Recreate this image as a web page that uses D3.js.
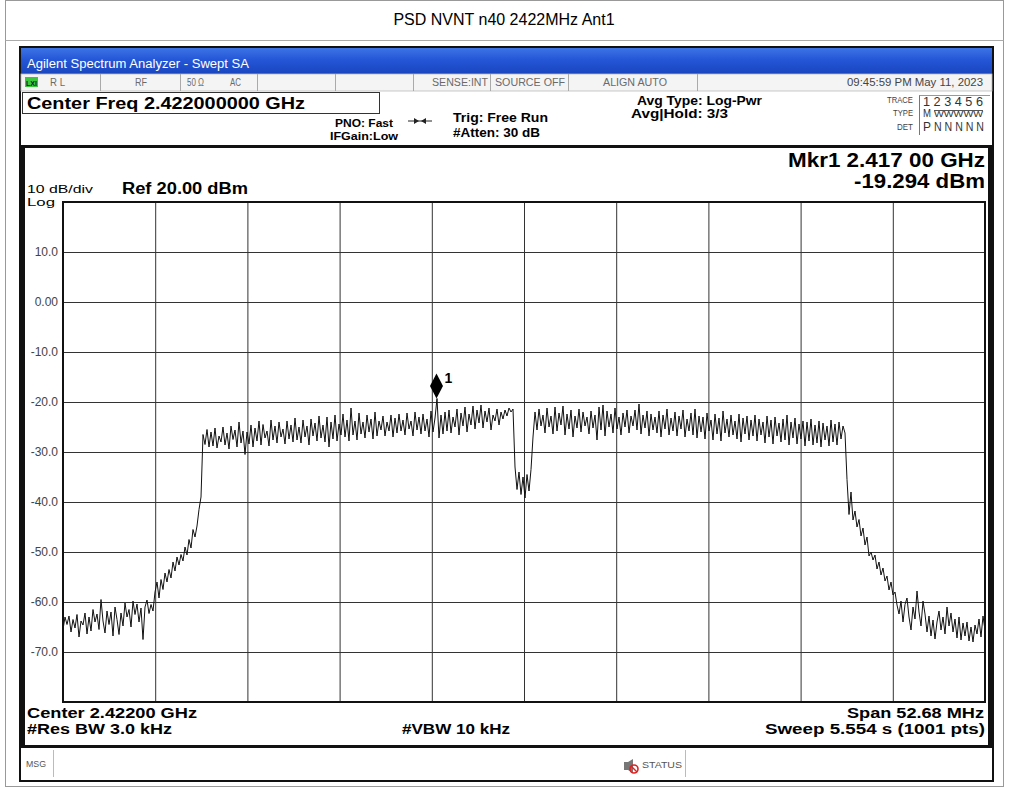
<!DOCTYPE html>
<html>
<head>
<meta charset="utf-8">
<script src="https://cdn.jsdelivr.net/npm/d3@7"></script>
<style>
  body { margin: 0; background: #fff; }
  svg { display: block; font-family: "Liberation Sans", Arial, sans-serif; }
</style>
</head>
<body>
<div id="chart"></div>
<script>
// ---- values ----
var centerGHz = 2.422;
var spanMHz = 52.68;
var refLevel = 20;
var dbPerDiv = 10;
var yTickValues = [10, 0, -10, -20, -30, -40, -50, -60, -70];
var yTickLabels = ["10.0", "0.00", "-10.0", "-20.0", "-30.0", "-40.0", "-50.0", "-60.0", "-70.0"];
var markerGHz = 2.417;
var markerDbm = -19.294;

// trace (dBm), evenly spaced over the span, left to right
var floorLeft = [-65.5, -63.0, -64.5, -62.8, -66.0, -63.5, -65.2, -62.5, -67.0, -63.8,
  -64.6, -62.2, -66.4, -63.0, -65.8, -61.5, -64.0, -62.4, -65.5, -59.5,
  -63.8, -66.2, -61.8, -64.5, -62.0, -66.8, -61.0, -63.5, -66.5, -62.2,
  -64.8, -60.2, -63.0, -61.5, -65.0, -59.8, -62.5, -60.4, -64.0, -61.2,
  -67.5, -61.0, -59.6, -62.3];
var riseLeft = [-60.5, -61.8, -58.0, -56.0, -59.2, -55.5, -57.5, -54.2, -56.0, -53.5,
  -55.2, -52.0, -53.8, -51.0, -52.6, -50.5, -51.8, -49.0, -50.6, -47.5,
  -49.2, -45.5, -47.0, -44.8, -41.5, -39.0];
var bandLeft = [-26.5, -28.5, -25.5, -29.0, -26.0, -28.8, -25.2, -29.2, -26.8, -28.0,
  -25.0, -28.6, -26.2, -29.4, -24.8, -27.5, -25.6, -29.0, -24.0, -28.2,
  -25.8, -30.5, -26.0, -28.4, -24.6, -29.0, -25.2, -27.8, -23.8, -28.6,
  -24.5, -27.2, -25.8, -28.8, -23.6, -27.6, -24.8, -28.2, -24.0, -27.0,
  -25.4, -28.4, -23.8, -27.4, -24.6, -28.0, -23.2, -27.6, -25.0, -28.2,
  -23.6, -27.0, -24.8, -28.6, -23.4, -26.8, -24.2, -27.8, -22.8, -27.2,
  -24.6, -28.0, -23.0, -29.0, -24.0, -27.4, -22.6, -27.8, -24.4, -26.6,
  -22.4, -27.0, -23.6, -27.8, -21.2, -26.6, -23.8, -27.6, -22.2, -26.4,
  -24.0, -27.2, -22.6, -26.0, -23.4, -27.4, -22.0, -26.8, -23.8, -25.6,
  -22.8, -26.8, -24.0, -25.8, -22.6, -27.0, -23.2, -26.2, -22.4, -25.8,
  -23.6, -26.6, -22.2, -25.4, -23.8, -26.8, -22.0, -25.6, -23.0, -26.4,
  -22.4, -25.8, -23.4, -27.0, -21.8, -26.0, -23.2, -19.3, -27.2, -22.6,
  -26.4, -22.0, -25.8, -21.6, -26.2, -23.0, -25.0, -21.4, -26.6, -22.2,
  -24.8, -21.0, -26.0, -22.4, -24.6, -20.8, -25.4, -21.6, -24.2, -20.6,
  -25.2, -21.8, -24.0, -21.2, -25.6, -22.6, -23.8, -21.4, -24.6, -22.0,
  -23.4, -21.6, -22.8, -21.2, -22.0, -21.4];
var notch = [-33.0, -37.5, -34.0, -38.5, -35.0, -39.2, -34.5, -37.8, -33.5, -27.0];
var bandRight = [-22.0, -25.6, -21.4, -24.8, -22.6, -26.2, -21.2, -25.0, -22.8, -26.4,
  -21.0, -25.8, -22.2, -24.6, -20.8, -26.6, -22.4, -25.4, -21.6, -27.0,
  -22.8, -25.2, -21.4, -26.0, -22.0, -24.8, -23.0, -26.4, -21.8, -25.2,
  -22.6, -27.6, -21.0, -25.6, -20.6, -26.8, -21.8, -25.0, -22.4, -26.2,
  -21.2, -25.4, -23.0, -26.6, -22.2, -25.0, -21.6, -26.2, -22.8, -24.8,
  -21.6, -25.6, -20.4, -26.4, -22.6, -25.2, -21.8, -26.8, -22.4, -25.6,
  -23.0, -26.2, -21.8, -27.0, -22.6, -25.4, -21.4, -26.6, -23.2, -25.8,
  -22.0, -26.8, -22.8, -25.4, -21.6, -27.0, -23.4, -25.8, -22.2, -26.6,
  -21.4, -27.2, -22.8, -26.0, -23.0, -27.4, -22.2, -25.8, -23.6, -27.6,
  -22.4, -26.4, -23.2, -27.8, -21.8, -26.2, -23.4, -27.0, -22.6, -26.6,
  -23.8, -27.4, -22.4, -28.0, -23.2, -26.4, -22.8, -27.6, -23.6, -26.8,
  -22.6, -27.8, -23.4, -26.6, -24.0, -28.2, -22.8, -27.0, -23.6, -28.4,
  -23.0, -26.8, -24.2, -28.0, -23.4, -27.6, -22.6, -28.6, -24.0, -27.2,
  -23.2, -28.4, -24.4, -27.4, -23.8, -28.8, -24.0, -27.8, -23.4, -28.6,
  -24.6, -28.2, -23.8, -29.0, -24.2, -27.6, -24.8, -28.8, -23.6, -28.0,
  -24.4, -28.6, -24.0, -27.4, -24.8, -26.2];
var fallRight = [-35.5, -42.5, -38.0, -43.6, -41.8, -45.0, -43.5, -46.8, -45.2, -48.6,
  -47.0, -50.8, -50.0, -51.6, -50.6, -53.4, -52.0, -54.6, -53.2, -55.8,
  -54.8, -57.6, -56.0, -58.6, -58.0];
var floorRight = [-60.6, -62.4, -59.8, -64.0, -60.5, -59.2, -63.0, -65.6, -61.0, -63.4,
  -57.8, -62.0, -64.8, -59.8, -62.4, -66.0, -62.8, -66.8, -63.6, -67.4,
  -64.0, -61.8, -65.6, -63.0, -66.4, -61.0, -64.8, -62.2, -66.0, -63.4,
  -67.2, -63.0, -67.6, -64.2, -66.8, -64.0, -67.8, -65.0, -68.0, -64.6,
  -66.4, -63.4, -67.0, -62.8, -65.6];

// ---- layout ----
var width = 1009, height = 787;
var plot = { left: 63, right: 985, top: 202, bottom: 702 };
var scr = { left: 20, right: 993, top: 47, bottom: 781 };

var svg = d3.select("#chart").append("svg")
  .attr("width", width)
  .attr("height", height);

function label(s, x, y, o) {
  o = o || {};
  var t = svg.append("text")
    .attr("x", o.len && o.anchor === "end" ? x - o.len : x)
    .attr("y", y)
    .attr("font-size", o.size || 12)
    .attr("font-weight", o.bold ? "bold" : null)
    .attr("fill", o.fill || "#000")
    .attr("text-anchor", o.len ? "start" : (o.anchor || "start"))
    .text(s);
  if (o.len) t.attr("textLength", o.len).attr("lengthAdjust", "spacingAndGlyphs");
  return t;
}

// page frame + title
svg.append("rect").attr("x", 5.5).attr("y", 0.5).attr("width", 998).attr("height", 786)
   .attr("fill", "none").attr("stroke", "#999");
svg.append("line").attr("x1", 5.5).attr("x2", 1003.5).attr("y1", 40.5).attr("y2", 40.5)
   .attr("stroke", "#aaa");
label("PSD NVNT n40 2422MHz Ant1", 504, 25, { size: 16, anchor: "middle" });

// analyzer window
svg.append("rect").attr("x", scr.left).attr("y", scr.top)
   .attr("width", scr.right - scr.left).attr("height", scr.bottom - scr.top)
   .attr("fill", "#fff").attr("stroke", "#111").attr("stroke-width", 2);

var defs = svg.append("defs");
var grad = defs.append("linearGradient").attr("id", "bar").attr("x1", 0).attr("x2", 0).attr("y1", 0).attr("y2", 1);
grad.append("stop").attr("offset", "0%").attr("stop-color", "#3d74e6");
grad.append("stop").attr("offset", "45%").attr("stop-color", "#2456d6");
grad.append("stop").attr("offset", "100%").attr("stop-color", "#1a45bf");
svg.append("rect").attr("x", scr.left + 1).attr("y", scr.top + 1)
   .attr("width", scr.right - scr.left - 2).attr("height", 26)
   .attr("fill", "url(#bar)");
label("Agilent Spectrum Analyzer - Swept SA", 27, 68, { size: 12, fill: "#fff", len: 222 });

// status strip
svg.append("rect").attr("x", scr.left + 1).attr("y", 74).attr("width", scr.right - scr.left - 2).attr("height", 17)
   .attr("fill", "#f4f4f4").attr("stroke", "#bbb").attr("stroke-width", 0.8);
[100, 180, 257, 335, 413, 490, 568, 697].forEach(function(d) {
  svg.append("line").attr("x1", d + 0.5).attr("x2", d + 0.5).attr("y1", 74).attr("y2", 91)
     .attr("stroke", "#aaa");
});
svg.append("rect").attr("x", 25).attr("y", 77).attr("width", 13).attr("height", 10).attr("fill", "#3cc83c");
label("LXI", 26, 85.5, { size: 8, bold: true, fill: "#123", len: 11 });
var grey = "#6a6a6a";
label("R L", 50, 86, { size: 10, fill: grey, len: 15 });
label("RF", 135, 86, { size: 10, fill: grey, len: 12 });
label("50 \u03a9", 187, 86, { size: 10, fill: grey, len: 17 });
label("AC", 230, 86, { size: 10, fill: grey, len: 11 });
label("SENSE:INT", 432, 86, { size: 10, fill: grey, len: 56 });
label("SOURCE OFF", 495, 86, { size: 10, fill: grey, len: 70 });
label("ALIGN AUTO", 603, 86, { size: 10, fill: grey, len: 64 });
label("09:45:59 PM May 11, 2023", 983, 86, { size: 10, fill: "#444", len: 136, anchor: "end" });

// settings block
svg.append("rect").attr("x", 22.5).attr("y", 92.5).attr("width", 357).attr("height", 21)
   .attr("fill", "#fff").attr("stroke", "#333");
label("Center Freq 2.422000000 GHz", 27, 109, { size: 16, bold: true, len: 278 });
label("PNO: Fast", 393, 127, { size: 11, bold: true, len: 58, anchor: "end" });
label("IFGain:Low", 398, 140, { size: 11, bold: true, len: 68, anchor: "end" });
svg.append("line").attr("x1", 408).attr("x2", 432).attr("y1", 121).attr("y2", 121).attr("stroke", "#222");
svg.append("path").attr("d", "M414,118 L419,121 L414,124 Z M426,118 L421,121 L426,124 Z").attr("fill", "#222");
label("Trig: Free Run", 453, 122, { size: 13, bold: true, len: 95 });
label("#Atten: 30 dB", 453, 137, { size: 13, bold: true, len: 87 });
label("Avg Type: Log-Pwr", 637, 105, { size: 13, bold: true, len: 125 });
label("Avg|Hold: 3/3", 631, 118, { size: 13, bold: true, len: 97 });
label("TRACE", 913, 103, { size: 9, fill: "#444", len: 26, anchor: "end" });
label("TYPE", 913, 116, { size: 9, fill: "#444", len: 20, anchor: "end" });
label("DET", 913, 130, { size: 9, fill: "#444", len: 16, anchor: "end" });
svg.append("line").attr("x1", 919.5).attr("x2", 919.5).attr("y1", 95).attr("y2", 135).attr("stroke", "#777");
svg.append("line").attr("x1", 919.5).attr("x2", 990).attr("y1", 95.5).attr("y2", 95.5).attr("stroke", "#999");
label("1 2 3 4 5 6", 923, 106, { size: 13, fill: "#333", len: 60 });
label("M", 923, 117, { size: 10, fill: "#333", len: 8 });
label("WWWWW", 934, 117, { size: 9, fill: "#333", len: 49 });
svg.append("line").attr("x1", 934).attr("x2", 983).attr("y1", 110.5).attr("y2", 110.5).attr("stroke", "#555");
label("P", 923, 131, { size: 12, fill: "#333", len: 8 });
label("N N N N N", 934, 131, { size: 12, fill: "#333", len: 50 });

// panel separators
svg.append("rect").attr("x", scr.left).attr("y", 145).attr("width", scr.right - scr.left).attr("height", 3).attr("fill", "#111");
svg.append("rect").attr("x", scr.left).attr("y", 745).attr("width", scr.right - scr.left).attr("height", 3).attr("fill", "#111");
svg.append("rect").attr("x", scr.left).attr("y", 145).attr("width", 5).attr("height", 603).attr("fill", "#111");
svg.append("rect").attr("x", 988).attr("y", 145).attr("width", 5).attr("height", 603).attr("fill", "#111");

// scales
var fStart = centerGHz - spanMHz / 2000;
var fStop = centerGHz + spanMHz / 2000;
var x = d3.scaleLinear().domain([fStart, fStop]).range([plot.left, plot.right]);
var y = d3.scaleLinear().domain([refLevel - dbPerDiv * 10, refLevel]).range([plot.bottom, plot.top]);

var xGrid = d3.range(1, 10).map(function(k) { return fStart + k * (fStop - fStart) / 10; });

var gx = svg.append("g")
  .attr("transform", "translate(0," + plot.bottom + ")")
  .call(d3.axisBottom(x).tickValues(xGrid).tickSize(-(plot.bottom - plot.top)).tickFormat(""));
gx.select(".domain").remove();
gx.selectAll("line").attr("stroke", "#333");

var gy = svg.append("g")
  .attr("transform", "translate(" + plot.left + ",0)")
  .call(d3.axisLeft(y).tickValues(yTickValues).tickSize(-(plot.right - plot.left)).tickPadding(5)
          .tickFormat(function(d, i) { return yTickLabels[i]; }));
gy.select(".domain").remove();
gy.selectAll("line").attr("stroke", "#333");
gy.selectAll("text").attr("font-size", 12).attr("fill", "#444")
  .attr("font-family", "'Liberation Sans', Arial, sans-serif");

svg.append("rect").attr("x", plot.left).attr("y", plot.top)
   .attr("width", plot.right - plot.left).attr("height", plot.bottom - plot.top)
   .attr("fill", "none").attr("stroke", "#111").attr("stroke-width", 2);

// trace
var trace = [].concat(floorLeft, riseLeft, bandLeft, notch, bandRight, fallRight, floorRight);
var step = (fStop - fStart) / (trace.length - 1);
var line = d3.line()
  .x(function(d, i) { return x(fStart + i * step); })
  .y(function(d) { return y(d); });
svg.append("path").datum(trace)
  .attr("d", line)
  .attr("fill", "none")
  .attr("stroke", "#111")
  .attr("stroke-width", 1);

// marker
var mx = x(markerGHz), my = y(markerDbm);
svg.append("path")
  .attr("d", "M" + mx + "," + my + " L" + (mx + 6.5) + "," + (my - 12.5) + " L" + mx + "," + (my - 25) + " L" + (mx - 6.5) + "," + (my - 12.5) + " Z")
  .attr("fill", "#000");
label("1", mx + 8, my - 15, { size: 14, bold: true });

// annotations
label("Mkr1 2.417 00 GHz", 985, 167, { size: 20, bold: true, len: 197, anchor: "end" });
label("-19.294 dBm", 985, 188, { size: 20, bold: true, len: 131, anchor: "end" });
label("10 dB/div", 27, 193, { size: 11, len: 66 });
label("Log", 27, 206, { size: 11, len: 28 });
label("Ref 20.00 dBm", 122, 194, { size: 16, bold: true, len: 126 });

label("Center 2.42200 GHz", 27, 718, { size: 14, bold: true, len: 170 });
label("#Res BW 3.0 kHz", 27, 734, { size: 14, bold: true, len: 145 });
label("#VBW 10 kHz", 402, 734, { size: 14, bold: true, len: 108 });
label("Span 52.68 MHz", 984, 718, { size: 14, bold: true, len: 137, anchor: "end" });
label("Sweep  5.554 s (1001 pts)", 985, 734, { size: 14, bold: true, len: 220, anchor: "end" });

// message strip
svg.append("line").attr("x1", 53.5).attr("x2", 53.5).attr("y1", 750).attr("y2", 777).attr("stroke", "#bbb");
svg.append("line").attr("x1", 685.5).attr("x2", 685.5).attr("y1", 750).attr("y2", 777).attr("stroke", "#bbb");
label("MSG", 26, 767, { size: 9, fill: "#555", len: 20 });
svg.append("path").attr("d", "M624,762 h4 l5,-3 v14 l-5,-3 h-4 Z").attr("fill", "#777");
svg.append("circle").attr("cx", 634).attr("cy", 769).attr("r", 4).attr("fill", "none").attr("stroke", "#d22").attr("stroke-width", 1.6);
svg.append("line").attr("x1", 631).attr("x2", 637).attr("y1", 766).attr("y2", 772).attr("stroke", "#d22").attr("stroke-width", 1.4);
label("STATUS", 642, 768, { size: 9, fill: "#555", len: 40 });
</script>
</body>
</html>
